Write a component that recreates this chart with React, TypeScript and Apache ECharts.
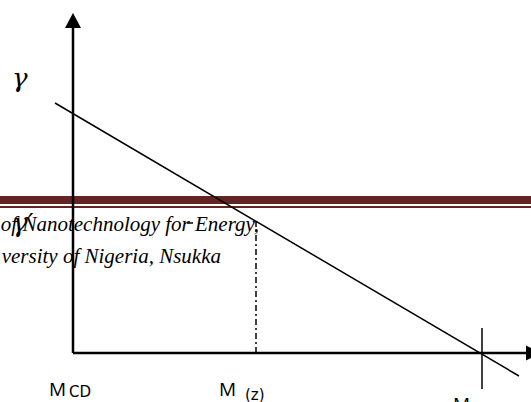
import React, { useEffect, useRef } from "react";
import * as echarts from "echarts";

// Axis arrows (data units, origin at M_CD)
const yAxisX = [0, 0];
const yAxisY = [0, 83.1];
const xAxisX = [0, 92.1];
const xAxisY = [0, 0];
// Main descending line
const lineX = [-3.6, 89.2];
const lineY = [62.5, -5.75];
// Dash-dot drop line at M(z)
const dropX = [36.6, 36.6];
const dropY = [0, 32.9];
// Short horizontal dash at the gamma' level
const levelX = [22.8, 24.0];
const levelY = [32.5, 32.5];
// Vertical tick at M (right)
const tickX = [81.8, 81.8];
const tickY = [6.25, -9];

const pairs = (xs: number[], ys: number[]) => xs.map((x, i) => [x, ys[i]]);

export default function App() {
  const ref = useRef<HTMLDivElement>(null);
  useEffect(() => {
    if (!ref.current) return;
    const chart = echarts.init(ref.current, undefined, { renderer: "svg" });
    const serif = "'Liberation Serif', 'Times New Roman', serif";
    const greek = "'DejaVu Serif', serif";
    const sans = "'Open Sans', 'Noto Sans', sans-serif";
    const dsans = "'DejaVu Sans', sans-serif";
    const italicText = (text: string, x: number, y: number, size: number, family: string, align = "left") => ({
      type: "text",
      x,
      y,
      z: 20,
      style: {
        text,
        fontFamily: family,
        fontStyle: "italic",
        fontSize: size,
        fill: "#000",
        align,
        verticalAlign: "middle",
      },
    });
    const sansText = (text: string, x: number, y: number, size: number, family: string) => ({
      type: "text",
      x,
      y,
      z: 20,
      style: { text, fontFamily: family, fontSize: size, fill: "#000", verticalAlign: "middle" },
    });
    const arrowSeries = (xs: number[], ys: number[], size: number[], rotate: number) => ({
      type: "line",
      data: [
        { value: [xs[0], ys[0]], symbol: "none" },
        { value: [xs[1], ys[1]], symbol: "triangle", symbolSize: size, symbolRotate: rotate },
      ],
      clip: false,
      symbol: "none",
      showSymbol: true,
      itemStyle: { color: "#000", borderWidth: 0 },
      lineStyle: { color: "#000", width: 2.5 },
      z: 6,
    });
    const plain = (xs: number[], ys: number[], width: number, type: any = "solid") => ({
      type: "line",
      data: pairs(xs, ys),
      clip: false,
      symbol: "none",
      lineStyle: { color: "#000", width, type },
      z: 5,
    });
    chart.setOption({
      animation: false,
      backgroundColor: "#ffffff",
      grid: { left: 0, top: 0, right: 0, bottom: 0, containLabel: false },
      xAxis: { type: "value", min: -14.6, max: 91.6, show: false },
      yAxis: { type: "value", min: -12.25, max: 88.25, show: false },
      graphic: [
        { type: "rect", z: 0, shape: { x: 0, y: 196, width: 531, height: 8 }, style: { fill: "#632523" } },
        { type: "rect", z: 0, shape: { x: 0, y: 206, width: 531, height: 2 }, style: { fill: "#632523" } },
        italicText("of Nanotechnology for Energy,", 259, 223.5, 21, serif, "right"),
        italicText("versity of Nigeria, Nsukka", 221, 255.5, 21, serif, "right"),
        italicText("γ", 12, 77.5, 26, greek),
        italicText("γ′", 12, 222.5, 26, greek),
        sansText("M", 49, 388.6, 19, sans),
        sansText("CD", 69, 391.8, 15, dsans),
        sansText("M", 219, 388.6, 19, sans),
        sansText("(z)", 245, 394.8, 15, dsans),
        sansText("M", 453, 404.2, 19, sans),
      ],
      series: [
        arrowSeries(yAxisX, yAxisY, [16, 15], 0),
        arrowSeries(xAxisX, xAxisY, [15, 15], -90),
        plain(lineX, lineY, 1.5),
        plain(dropX, dropY, 1.5, [6, 3, 2, 3]),
        plain(levelX, levelY, 1.5),
        plain(tickX, tickY, 1.5),
      ],
    });
    return () => chart.dispose();
  }, []);
  return <div ref={ref} style={{ width: 531, height: 402, position: "fixed", left: 0, top: 0 }} />;
}
